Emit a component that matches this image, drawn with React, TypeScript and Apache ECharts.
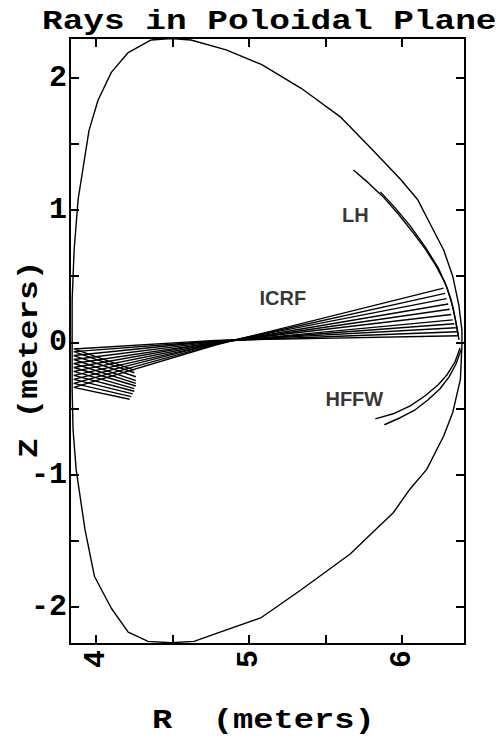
import React, { useEffect, useRef } from "react";
import * as echarts from "echarts";

const xRange = [3.83, 6.41];
const yRange = [-2.28, 2.3];
const xTickValues = [4, 4.5, 5, 5.5, 6];
const xLabelValues = [4, 5, 6];
const yTickValues = [-2, -1.5, -1, -0.5, 0, 0.5, 1, 1.5, 2];
const yLabelValues = [-2, -1, 0, 1, 2];

const titleText = "Rays in Poloidal Plane";
const xName = "R  (meters)";
const yName = "Z (meters)";

// plasma boundary [R, Z]
const boundary: number[][] = [
  [4.36, 2.285], [4.49, 2.296], [4.62, 2.285], [4.85, 2.21], [5.08, 2.1],
  [5.34, 1.92], [5.6, 1.7], [5.81, 1.45], [5.99, 1.23], [6.1, 1.08],
  [6.18, 0.9], [6.27, 0.7], [6.33, 0.5], [6.37, 0.28], [6.39, 0.09],
  [6.39, -0.02], [6.38, -0.28], [6.33, -0.53], [6.27, -0.71], [6.16, -0.96],
  [6.05, -1.11], [5.94, -1.29], [5.84, -1.4], [5.66, -1.6], [5.34, -1.87],
  [5.08, -2.08], [4.81, -2.19], [4.64, -2.26], [4.49, -2.27], [4.34, -2.26],
  [4.21, -2.19], [4.1, -2.01], [3.99, -1.77], [3.928, -1.416], [3.87, -0.96],
  [3.85, -0.66], [3.844, -0.36], [3.844, 0.32], [3.857, 0.7], [3.883, 1.08],
  [3.954, 1.6], [4.013, 1.83], [4.1, 2.04], [4.21, 2.19], [4.36, 2.285],
];

// lower hybrid rays
const lhRay1: number[][] = [
  [5.681, 1.303], [5.779, 1.205], [5.876, 1.099], [5.974, 0.97], [6.072, 0.827],
  [6.15, 0.706], [6.221, 0.578], [6.28, 0.449], [6.319, 0.321], [6.345, 0.185], [6.365, 0.057],
];
const lhRay2: number[][] = [
  [5.857, 1.137], [5.954, 1.016], [6.052, 0.88], [6.15, 0.721], [6.235, 0.563],
  [6.293, 0.412], [6.332, 0.261], [6.358, 0.11], [6.371, 0.019],
];

// high field fast wave rays
const hffwRay1: number[][] = [
  [5.824, -0.578], [5.941, -0.54], [6.052, -0.48], [6.15, -0.404], [6.235, -0.321],
  [6.293, -0.245], [6.345, -0.147], [6.378, -0.042],
];
const hffwRay2: number[][] = [
  [5.883, -0.623], [5.987, -0.57], [6.085, -0.51], [6.169, -0.434], [6.247, -0.351],
  [6.306, -0.261], [6.352, -0.162], [6.384, -0.057],
];

// ICRF rays: antenna end, waist, inner wall, reflected end
const icrf0: number[][] = [[6.27, 0.41], [4.78, -0.02], [3.855, -0.34], [4.22, -0.43]];
const icrf1: number[][] = [[6.28, 0.37], [4.78, -0.015], [3.855, -0.31], [4.23, -0.41]];
const icrf2: number[][] = [[6.29, 0.33], [4.78, -0.01], [3.855, -0.28], [4.24, -0.39]];
const icrf3: number[][] = [[6.3, 0.29], [4.78, -0.01], [3.855, -0.25], [4.25, -0.37]];
const icrf4: number[][] = [[6.31, 0.25], [4.78, -0.005], [3.855, -0.22], [4.25, -0.35]];
const icrf5: number[][] = [[6.32, 0.21], [4.78, 0.0], [3.855, -0.19], [4.26, -0.33]];
const icrf6: number[][] = [[6.33, 0.17], [4.78, 0.0], [3.855, -0.16], [4.26, -0.31]];
const icrf7: number[][] = [[6.34, 0.14], [4.78, 0.005], [3.855, -0.13], [4.26, -0.29]];
const icrf8: number[][] = [[6.35, 0.11], [4.78, 0.01], [3.855, -0.1], [4.26, -0.26]];
const icrf9: number[][] = [[6.36, 0.08], [4.78, 0.01], [3.855, -0.07], [4.25, -0.23]];
const icrf10: number[][] = [[6.37, 0.05], [4.78, 0.015], [3.855, -0.05], [4.25, -0.21]];
const icrfRays = [icrf0, icrf1, icrf2, icrf3, icrf4, icrf5, icrf6, icrf7, icrf8, icrf9, icrf10];

const annotationNames = ["ICRF", "LH", "HFFW"];
const annotationPositions: number[][] = [[5.22, 0.336], [5.694, 0.963], [5.687, -0.427]];

const MONO = '"Liberation Mono", "DejaVu Sans Mono", monospace';
const SANS = '"Liberation Sans", Arial, sans-serif';

export default function App() {
  const ref = useRef<HTMLDivElement>(null);
  useEffect(() => {
    if (!ref.current) return;
    const chart = echarts.init(ref.current, undefined, { renderer: "svg" });
    const lineStyle = { color: "#000", width: 1.4 };
    const mkLine = (name: string, data: number[][]) => ({
      name,
      type: "line",
      data,
      showSymbol: false,
      symbol: "none",
      lineStyle,
      silent: true,
      z: 3,
    });
    const axisLine = { show: true, onZero: false, lineStyle: { color: "#000", width: 2 } };
    const tick = (vals: number[]) => ({
      show: true,
      inside: true,
      length: 9,
      customValues: vals,
      lineStyle: { color: "#000", width: 2 },
    });
    const series: any[] = [
      mkLine("boundary", boundary),
      mkLine("LH 1", lhRay1),
      mkLine("LH 2", lhRay2),
      mkLine("HFFW 1", hffwRay1),
      mkLine("HFFW 2", hffwRay2),
      ...icrfRays.map((r, i) => mkLine("ICRF " + (i + 1), r)),
      {
        name: "labels",
        type: "scatter",
        symbolSize: 0,
        silent: true,
        data: annotationNames.map((n, i) => ({ name: n, value: annotationPositions[i] })),
        label: {
          show: true,
          position: "inside",
          formatter: (p: any) => p.name,
          fontFamily: SANS,
          fontWeight: "bold",
          fontSize: 20,
          color: "#000",
          textBorderWidth: 0,
        },
        z: 5,
      },
    ];
    chart.setOption({
      animation: false,
      backgroundColor: "#fff",
      grid: { left: 70, right: 31, top: 38, bottom: 93, containLabel: false, outerBoundsMode: "none" },
      xAxis: [
        {
          type: "value",
          position: "bottom",
          min: xRange[0],
          max: xRange[1],
          axisLine,
          axisTick: tick(xTickValues),
          axisLabel: {
            show: true,
            customValues: xLabelValues,
            rotate: 90,
            margin: 6,
            fontFamily: MONO,
            fontWeight: "bold",
            fontSize: 30,
            color: "#000",
          },
          splitLine: { show: false },
        },
        {
          type: "value",
          position: "top",
          min: xRange[0],
          max: xRange[1],
          axisLine,
          axisTick: tick(xTickValues),
          axisLabel: { show: false },
          splitLine: { show: false },
        },
      ],
      yAxis: [
        {
          type: "value",
          position: "left",
          min: yRange[0],
          max: yRange[1],
          axisLine,
          axisTick: tick(yTickValues),
          axisLabel: {
            show: true,
            customValues: yLabelValues,
            margin: 3,
            fontFamily: MONO,
            fontWeight: "bold",
            fontSize: 30,
            color: "#000",
          },
          splitLine: { show: false },
        },
        {
          type: "value",
          position: "right",
          min: yRange[0],
          max: yRange[1],
          axisLine,
          axisTick: tick(yTickValues),
          axisLabel: { show: false },
          splitLine: { show: false },
        },
      ],
      graphic: [
        {
          type: "text",
          x: 42,
          y: 21,
          scaleX: 1.23,
          style: {
            text: titleText,
            font: 'bold 28px "Liberation Mono", monospace',
            fill: "#000",
            align: "left",
            verticalAlign: "middle",
          },
        },
        {
          type: "text",
          x: 152,
          y: 721,
          scaleX: 1.25,
          style: {
            text: xName,
            font: 'bold 27px "Liberation Mono", monospace',
            fill: "#000",
            align: "left",
            verticalAlign: "middle",
          },
        },
        {
          type: "text",
          x: 30,
          y: 458,
          rotation: Math.PI / 2,
          scaleX: 1.22,
          style: {
            text: yName,
            font: 'bold 27px "Liberation Mono", monospace',
            fill: "#000",
            align: "left",
            verticalAlign: "middle",
          },
        },
      ],
      series,
    });
    return () => chart.dispose();
  }, []);
  return (
    <div
      ref={ref}
      style={{ position: "fixed", left: 0, top: 0, width: 496, height: 737, background: "#fff" }}
    />
  );
}
